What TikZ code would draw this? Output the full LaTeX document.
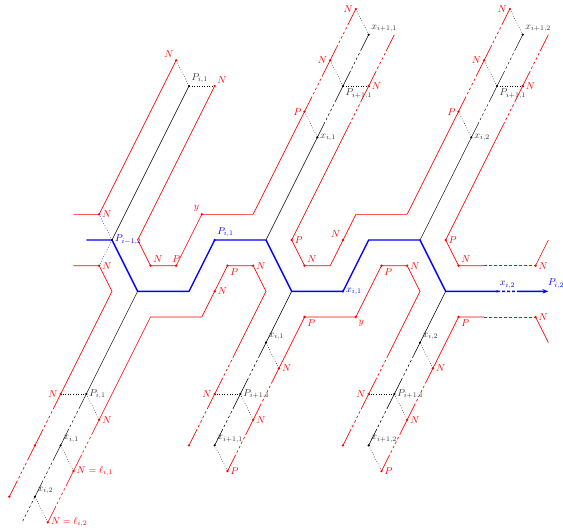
\documentclass[tikz,border=0pt]{standalone}
\usetikzlibrary{calc, arrows.meta}

\tikzset{
  borde/.style={red, line width=0.65pt},
  eje/.style={black, line width=0.5pt},
  camino/.style={blue, line width=1.4pt},
  enlace/.style={black, dotted, line width=0.55pt},
  rpunto/.style={circle, fill=red, inner sep=0pt, minimum size=2.6pt},
  npunto/.style={circle, fill=black, inner sep=0pt, minimum size=2.4pt},
  apunto/.style={circle, fill=blue, inner sep=0pt, minimum size=2.6pt},
  rtxt/.style={text=red, inner sep=1.5pt},
  ntxt/.style={text=black!80, inner sep=1.5pt},
  atxt/.style={text=blue, inner sep=1.5pt},
}

% tramo con hueco discontinuo: estilo, inicio, fin
\newcommand{\tramo}[3]{%
  \draw[#1] (#2) -- ($(#2)!0.25!(#3)$) ($(#2)!0.7!(#3)$) -- (#3);
  \draw[#1, dash pattern=on 2.5pt off 2.5pt] ($(#2)!0.25!(#3)$) -- ($(#2)!0.7!(#3)$);
}

\begin{document}
\begin{tikzpicture}[x=0.9025cm, y=0.9025cm]
  \useasboundingbox (-4.363,-11.30) rectangle (17.57,9.35);

  % --- 1. PUNTOS DEL CAMINO AZUL ---
  \coordinate (A0) at (-1,0);
  \coordinate (A1) at (0,0);
  \coordinate (A2) at (1,-2);
  \coordinate (A3) at (3,-2);
  \coordinate (A4) at (4,0);
  \coordinate (A5) at (6,0);
  \coordinate (A6) at (7,-2);
  \coordinate (A7) at (9,-2);
  \coordinate (A8) at (10,0);
  \coordinate (A9) at (12,0);
  \coordinate (A10) at (13,-2);
  \coordinate (A11) at (15,-2);
  \coordinate (A12) at (17,-2);
  \coordinate (Nsa) at (-0.5,1);
  \coordinate (Nia) at (-0.5,-1);

  % --- 2. RAMA SUPERIOR IZQUIERDA ---
  \coordinate (TP0) at (3,6);
  \coordinate (TN0) at (2.5,7);
  \coordinate (TM0) at (4,6);
  \draw[eje] (A1) -- (TP0);
  \draw[borde] (-1.5,1) -- (Nsa) -- (TN0);
  \draw[enlace] (TP0) -- (TN0);
  \draw[enlace] (TP0) -- (TM0);

  % --- 3. RAMAS SUPERIORES (cada 6 unidades) ---
  \foreach \s/\k in {0/1, 6/2} {
    \begin{scope}[shift={(\s,0)}]
      \coordinate (TB\k) at (6,0);
      \coordinate (Tx\k) at (8,4);
      \coordinate (TP\k) at (9,6);
      \coordinate (Ty\k) at (10,8);
      \coordinate (TLa\k) at (7.5,5);
      \coordinate (TLb\k) at (8.5,7);
      \coordinate (TLc\k) at (9.5,9);
      \coordinate (TRa\k) at (9,4);
      \coordinate (TRb\k) at (10,6);
      \coordinate (TRc\k) at (11,8);
    \end{scope}
    \draw[eje] (TB\k) -- (Tx\k);
    \tramo{eje}{Tx\k}{TP\k}
    \tramo{eje}{TP\k}{Ty\k}
    \tramo{borde}{TLa\k}{TLb\k}
    \tramo{borde}{TLb\k}{TLc\k}
    \tramo{borde}{TRa\k}{TRb\k}
    \tramo{borde}{TRb\k}{TRc\k}
    \draw[enlace] (Tx\k) -- (TLa\k);
    \draw[enlace] (TP\k) -- (TLb\k);
    \draw[enlace] (TP\k) -- (TRb\k);
    \draw[enlace] (Ty\k) -- (TLc\k);
  }

  % --- 4. RAMA INFERIOR IZQUIERDA ---
  \coordinate (BP0) at (-1,-6);
  \coordinate (Bx0) at (-2,-8);
  \coordinate (By0) at (-3,-10);
  \coordinate (BLa0) at (-2,-6);
  \coordinate (BLb0) at (-3,-8);
  \coordinate (BLc0) at (-4,-10);
  \coordinate (BRa0) at (-0.5,-7);
  \coordinate (BRb0) at (-1.5,-9);
  \coordinate (BRc0) at (-2.5,-11);
  \draw[eje] (A2) -- (BP0);
  \tramo{eje}{BP0}{Bx0}
  \tramo{eje}{Bx0}{By0}
  \draw[eje, dash pattern=on 2.5pt off 2.5pt] (By0) -- (-3.5,-11);
  \draw[borde] (-1.5,-1) -- (Nia) -- (0,-2) -- (BLa0);
  \tramo{borde}{BLa0}{BLb0}
  \tramo{borde}{BLb0}{BLc0}
  \tramo{borde}{BRa0}{BRb0}
  \tramo{borde}{BRb0}{BRc0}
  \draw[enlace] (BP0) -- (BLa0);
  \draw[enlace] (BP0) -- (BRa0);
  \draw[enlace] (Bx0) -- (BRb0);
  \draw[enlace] (By0) -- (BRc0);

  % --- 5. RAMAS INFERIORES (cada 6 unidades) ---
  \foreach \s/\k in {0/1, 6/2} {
    \begin{scope}[shift={(\s,0)}]
      \coordinate (BB\k) at (7,-2);
      \coordinate (Bx\k) at (6,-4);
      \coordinate (BP\k) at (5,-6);
      \coordinate (By\k) at (4,-8);
      \coordinate (BLa\k) at (5,-4);
      \coordinate (BLb\k) at (4,-6);
      \coordinate (BLc\k) at (3,-8);
      \coordinate (BRa\k) at (6.5,-5);
      \coordinate (BRb\k) at (5.5,-7);
      \coordinate (BRc\k) at (4.5,-9);
    \end{scope}
    \draw[eje] (BB\k) -- (Bx\k);
    \tramo{eje}{Bx\k}{BP\k}
    \tramo{eje}{BP\k}{By\k}
    \tramo{borde}{BLa\k}{BLb\k}
    \tramo{borde}{BLb\k}{BLc\k}
    \tramo{borde}{BRa\k}{BRb\k}
    \tramo{borde}{BRb\k}{BRc\k}
    \draw[enlace] (Bx\k) -- (BRa\k);
    \draw[enlace] (BP\k) -- (BLb\k);
    \draw[enlace] (BP\k) -- (BRb\k);
    \draw[enlace] (By\k) -- (BRc\k);
  }

  % --- 6. BORDES ROJOS ENTRE RAMAS ---
  \draw[borde] (TM0) -- (1,0) -- (1.5,-1) -- (2.5,-1) -- (3.5,1) -- (5.5,1) -- (TLa1);
  \draw[borde] (TRa1) -- (7,0) -- (7.5,-1) -- (8.5,-1) -- (9,0) -- (9.5,1) -- (11.5,1) -- (TLa2);
  \draw[borde] (TRa2) -- (13,0) -- (13.5,-1) -- (14.5,-1) (16.5,-1) -- (17,0);
  \draw[borde, dash pattern=on 2.5pt off 2.5pt] (14.5,-1) -- (16.5,-1);
  \draw[borde] (BRa0) -- (1.5,-3) -- (3.5,-3) -- (4.5,-1) -- (5.5,-1) -- (6,-2) -- (BLa1);
  \draw[borde] (BRa1) -- (7.5,-3) -- (9.5,-3) -- (10.5,-1) -- (11.5,-1) -- (12,-2) -- (BLa2);
  \draw[borde] (BRa2) -- (13.5,-3) -- (14.5,-3) (16.5,-3) -- (17,-4);
  \draw[borde, dash pattern=on 2.5pt off 2.5pt] (14.5,-3) -- (16.5,-3);

  % --- 7. CAMINO AZUL ---
  \draw[blue, dotted, line width=0.6pt] (A1) -- (Nsa);
  \draw[blue, dotted, line width=0.6pt] (A1) -- (Nia);
  \draw[camino] (A0) -- (A1) -- (A2) -- (A3) -- (A4) -- (A5) -- (A6) -- (A7)
    -- (A8) -- (A9) -- (A10) -- (A11);
  \draw[camino, dash pattern=on 3pt off 2pt] (A11) -- ($(A11)!0.45!(A12)$) coordinate (Af);
  \draw[camino, -{Stealth[length=6pt, width=4.5pt]}] (Af) -- (A12);

  % --- 8. PUNTOS Y ETIQUETAS ---
  \foreach \p/\d/\t [count=\i] in {
    {-0.5,1}/right/N, {-0.5,-1}/right/N, {1.5,-1}/above right/N, {2.5,-1}/above/P,
    {3.5,1}/above left/y, {4,-2}/right/N, {4.5,-1}/below right/P, {5.5,-1}/right/N,
    {7,0}/right/P, {7.5,-1}/above right/N, {9,0}/above left/N, {7.5,-3}/below right/P,
    {9.5,-3}/below right/y, {10.5,-1}/below right/P, {11.5,-1}/right/N, {13,0}/right/P,
    {13.5,-1}/above right/N, {16.5,-1}/right/N, {13.5,-3}/below right/P, {16.5,-3}/right/N,
    {2.5,7}/above left/N, {4,6}/above right/N, {7.5,5}/left/P, {8.5,7}/left/N,
    {9.5,9}/left/N, {10,6}/right/N, {13.5,5}/left/P, {14.5,7}/left/N,
    {15.5,9}/left/N, {16,6}/right/N,
    {-2,-6}/left/N, {-0.5,-7}/right/N, {-1.5,-9}/right/{N=\ell_{i,1}},
    {-2.5,-11}/right/{N=\ell_{i,2}},
    {4,-6}/left/N, {6.5,-5}/right/N, {5.5,-7}/right/N, {4.5,-9}/right/P,
    {10,-6}/left/N, {12.5,-5}/right/N, {11.5,-7}/right/N, {10.5,-9}/right/P}
    \node[rpunto, label={[rtxt]\d:$\t$}] (r\i) at (\p) {};
  \foreach \p [count=\i] in {{-3,-8}, {-4,-10}, {3,-8}, {9,-8}}
    \node[rpunto] (rs\i) at (\p) {};

  \foreach \p/\d/\t [count=\i] in {
    {3,6}/above right/{P_{i,1}}, {-1,-6}/right/{P_{i,1}},
    {-2,-8}/above right/{x_{i,1}}, {-3,-10}/above right/{x_{i,2}},
    {8,4}/right/{x_{i,1}}, {9,6}/below right/{P_{i+1,1}}, {10,8}/above right/{x_{i+1,1}},
    {14,4}/right/{x_{i,2}}, {15,6}/below right/{P_{i+1,1}}, {16,8}/above right/{x_{i+1,2}},
    {6,-4}/above right/{x_{i,1}}, {5,-6}/right/{P_{i+1,1}}, {4,-8}/above right/{x_{i+1,1}},
    {12,-4}/above right/{x_{i,2}}, {11,-6}/right/{P_{i+1,1}}, {10,-8}/above right/{x_{i+1,2}}}
    \node[npunto, label={[ntxt]\d:$\t$}] (n\i) at (\p) {};

  \node[npunto, label={[atxt]right:$P_{i-1,2}$}] (a1) at (A1) {};
  \node[apunto, label={[atxt]above right:$P_{i,1}$}] (a4) at (A4) {};
  \node[apunto, label={[atxt]right:$x_{i,1}$}] (a7) at (A7) {};
  \node[apunto, label={[atxt]above right:$x_{i,2}$}] (a11) at (A11) {};
  \node[atxt, anchor=south west, xshift=-2pt, yshift=1pt] (fin) at (A12) {$P_{i,2}$};
\end{tikzpicture}
\end{document}
